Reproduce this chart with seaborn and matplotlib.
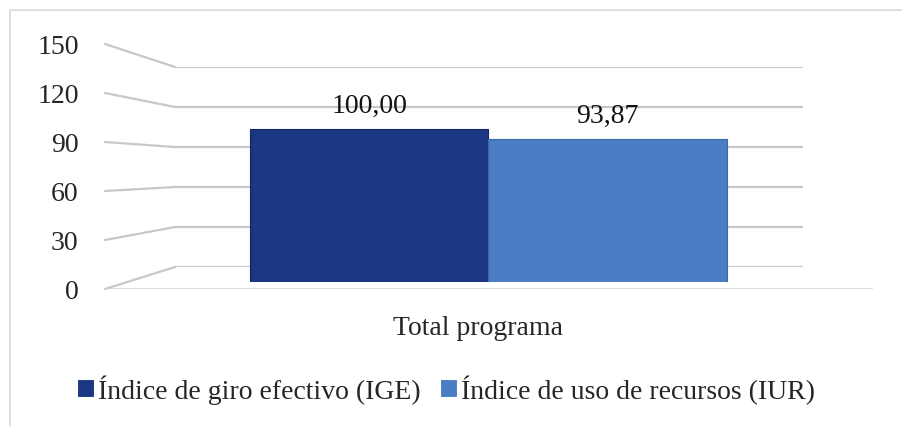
import matplotlib
matplotlib.use("Agg")
import matplotlib.pyplot as plt
from matplotlib.lines import Line2D
from matplotlib.transforms import ScaledTranslation
import seaborn as sns
import pandas as pd

# ---- data ----
categories = ["Total programa"]
series = ["Índice de giro efectivo (IGE)", "Índice de uso de recursos (IUR)"]
values = [100.00, 93.87]
yticks = [0, 30, 60, 90, 120, 150]
colors = ["#1b3682", "#4a7dc4"]
edges = ["#12265c", "#3b68a8"]

df = pd.DataFrame({"cat": categories * len(series), "serie": series, "valor": values})

sns.set_style("white")
plt.rcParams["font.family"] = ["Liberation Serif", "DejaVu Serif"]
FS = 20
GRID = "#c8c8c8"

W, H = 903, 427
fig = plt.figure(figsize=(W / 100, H / 100), dpi=100)

def frac(x0, y0, x1, y1):
    # pixel box (top-left origin) -> figure fraction rect
    return [x0 / W, 1 - y1 / H, (x1 - x0) / W, (y1 - y0) / H]

# background axes for frame
bg = fig.add_axes([0, 0, 1, 1])
bg.set_xlim(0, W); bg.set_ylim(H, 0); bg.axis("off")
bg.plot([10, 10, W], [H, 11, 11], color="#d9d9d9", lw=1.2)

# back wall (gridlines)
back = fig.add_axes(frac(175, 68, 803, 268))
back.set_ylim(0, 150); back.set_xlim(0, 1)
back.set_yticks(yticks); back.set_xticks([])
back.tick_params(left=False, labelleft=False)
back.grid(axis="y", color=GRID, lw=1.6)
for s in back.spines.values():
    s.set_visible(False)
back.patch.set_alpha(0)

# front plane (tick labels + floor line)
front = fig.add_axes(frac(105, 45, 873, 290))
front.set_ylim(0, 150); front.set_xlim(0, 1)
front.set_yticks(yticks)
front.set_yticklabels([str(t) for t in yticks], fontsize=FS)
front.tick_params(axis="y", length=0, pad=19)
front.set_xticks([])
front.axhline(0, color="#d9d9d9", lw=2)
for s in front.spines.values():
    s.set_visible(False)
front.patch.set_alpha(0)

# perspective connectors on left side wall
inv = fig.transFigure.inverted()
for v in yticks:
    p1 = inv.transform(front.transData.transform((0, v)))
    p2 = inv.transform(back.transData.transform((0, v)))
    fig.add_artist(Line2D([p1[0], p2[0]], [p1[1], p2[1]], color=GRID, lw=1.6,
                          transform=fig.transFigure))

# bar plane
ax = fig.add_axes(frac(175, 54, 803, 283))
sns.barplot(data=df, x="cat", y="valor", hue="serie", palette=colors,
            ax=ax, saturation=1, width=0.8, linewidth=0.8)
for cont, ec in zip(ax.containers, edges):
    for p in cont.patches:
        p.set_edgecolor(ec)
ax.set_ylim(0, 150)
ax.set_xlim(-0.5258, 0.5275)
ax.set_xlabel(""); ax.set_ylabel("")
ax.set_yticks([])
ax.tick_params(axis="x", length=0, pad=24, labelsize=FS)
for lbl in ax.get_xticklabels():
    lbl.set_transform(lbl.get_transform() + ScaledTranslation(-10 / 100, 0, fig.dpi_scale_trans))
for s in ax.spines.values():
    s.set_visible(False)
ax.patch.set_alpha(0)
for cont in ax.containers:
    ax.bar_label(cont, labels=[f"{v:.2f}".replace(".", ",") for v in cont.datavalues],
                 padding=8, fontsize=FS, color="#111111")

handles, labels = ax.get_legend_handles_labels()
if ax.get_legend() is not None:
    ax.get_legend().remove()
leg = fig.legend(handles, labels, loc="center", bbox_to_anchor=(446 / W, 1 - 390 / H),
                 ncol=2, frameon=False, fontsize=FS, handlelength=0.6, handleheight=0.6,
                 handletextpad=0.15, columnspacing=0.7)

fig.savefig("out.png", dpi=100)
